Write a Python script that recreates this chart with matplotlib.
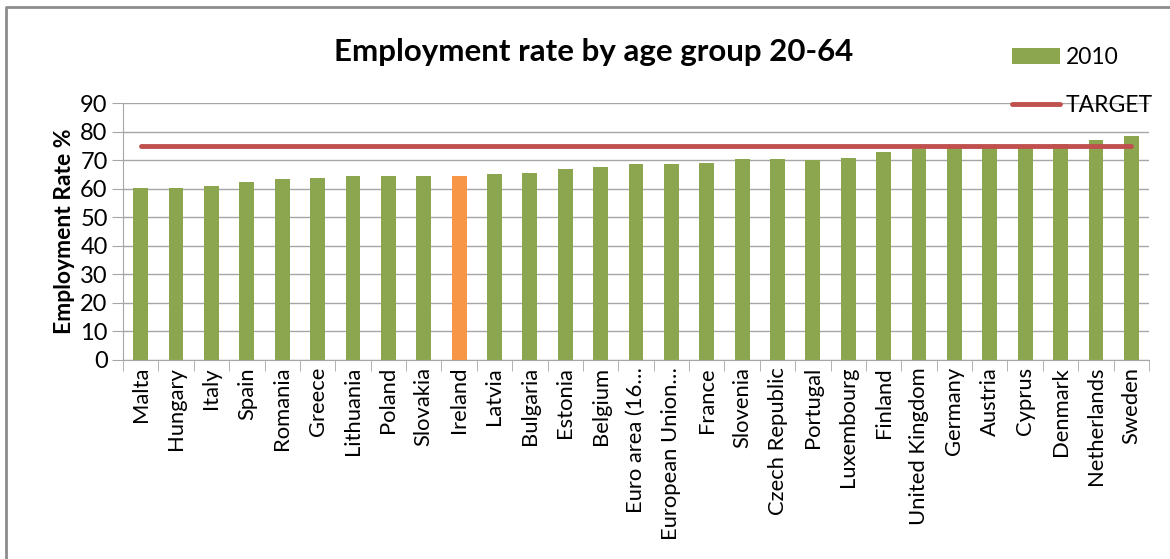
import matplotlib
matplotlib.use("Agg")
import matplotlib.pyplot as plt
import numpy as np
from matplotlib.lines import Line2D

plt.rcParams["font.family"] = ["Lato", "DejaVu Sans"]

countries = [
    "Malta", "Hungary", "Italy", "Spain", "Romania", "Greece", "Lithuania",
    "Poland", "Slovakia", "Ireland", "Latvia", "Bulgaria", "Estonia", "Belgium",
    "Euro area (16…", "European Union…", "France", "Slovenia", "Czech Republic",
    "Portugal", "Luxembourg", "Finland", "United Kingdom", "Germany", "Austria",
    "Cyprus", "Denmark", "Netherlands", "Sweden",
]
rate_2010 = [
    60.1, 60.4, 61.1, 62.5, 63.3, 63.8, 64.3, 64.6, 64.6, 64.6, 65.1, 65.6,
    66.8, 67.7, 68.5, 68.5, 69.1, 70.3, 70.3, 70.2, 70.7, 72.9, 73.8, 74.9,
    74.9, 75.4, 75.8, 76.9, 78.5,
]
target = 75
highlight = "Ireland"

GREEN = "#8BA64E"
ORANGE = "#F79646"
RED = "#C0504D"

fig = plt.figure(figsize=(11.7, 5.59), dpi=100)
ax = fig.add_axes([123 / 1170, 1 - 360 / 559, (1149 - 123) / 1170, (360 - 103) / 559])

x = np.arange(len(countries))
colors = [ORANGE if c == highlight else GREEN for c in countries]
ax.bar(x, rate_2010, width=0.42, color=colors, zorder=2, label="2010")
ax.plot(x, [target] * len(x), color=RED, lw=3.5, solid_capstyle="round", zorder=3, label="TARGET")

ax.set_xlim(-0.5, len(x) - 0.5)
ax.set_ylim(0, 90)
ax.set_yticks(range(0, 91, 10))
ax.yaxis.grid(True, color="#A6A6A6", lw=1, zorder=0)
ax.set_xticks(x)
ax.set_xticklabels(countries, rotation=90, fontsize=15.8)
ax.set_xticks(np.arange(-0.5, len(x), 1), minor=True)
ax.tick_params(axis="x", which="major", length=0, pad=5)
ax.tick_params(axis="x", which="minor", length=8, color="#A6A6A6")
ax.tick_params(axis="y", labelsize=17, length=8, color="#A6A6A6", pad=3)
for side in ("top", "right"):
    ax.spines[side].set_visible(False)
for side in ("left", "bottom"):
    ax.spines[side].set_color("#A6A6A6")

ax.set_ylabel("Employment Rate %", fontsize=16.5, fontweight="bold", labelpad=4)
fig.text(0.507, 0.907, "Employment rate by age group 20-64", ha="center", va="center",
         fontsize=22.5, fontweight="bold")

handles, labels = ax.get_legend_handles_labels()
order = [labels.index("2010"), labels.index("TARGET")]
ax.legend([handles[i] for i in order], [labels[i] for i in order],
          loc="upper left", bbox_to_anchor=(1012 / 1170, 1 - 47 / 559),
          bbox_transform=fig.transFigure, frameon=False, fontsize=16.5,
          borderpad=0, borderaxespad=0, handlelength=2.1, handleheight=0.75,
          labelspacing=1.2, handletextpad=0.25)

# chart frame (only top and left edges are visible in the crop)
W, H = 1170, 559
fig.lines.append(Line2D([6 / W, 6 / W, 1], [0, 1 - 7 / H, 1 - 7 / H],
                        transform=fig.transFigure, color="#8C8C8C", lw=2))

fig.savefig("out.png", dpi=100)
